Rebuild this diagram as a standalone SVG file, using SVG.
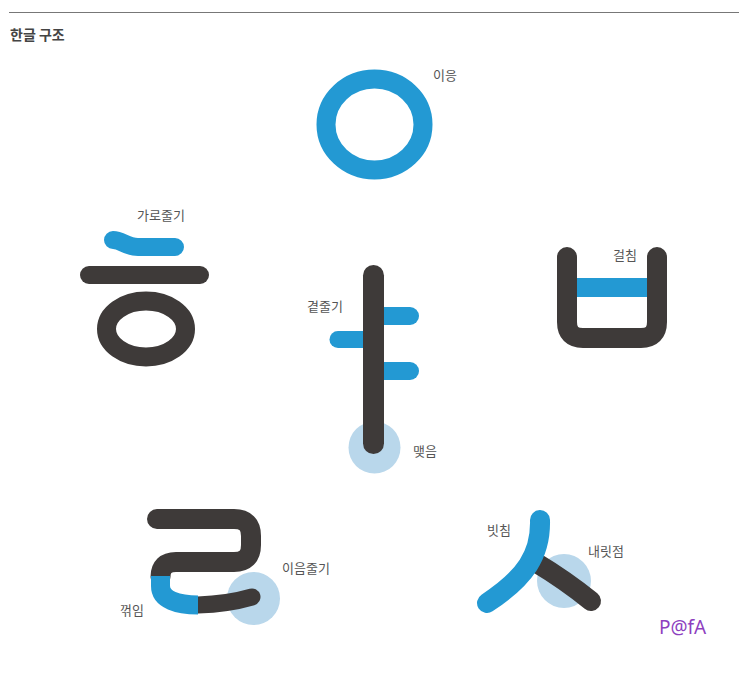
<svg xmlns="http://www.w3.org/2000/svg" width="749" height="683" viewBox="0 0 749 683">
<style>
.lbl{font-family:"Noto Sans CJK KR","Noto Sans",sans-serif;font-size:13px;fill:#555}
.title{font-family:"Noto Sans CJK KR","Noto Sans",sans-serif;font-size:14px;font-weight:bold;fill:#444}
.blue{fill:none;stroke:#2399d3;stroke-linecap:round;stroke-linejoin:round}
.dark{fill:none;stroke:#3e3a39;stroke-linecap:round;stroke-linejoin:round}
.halo{fill:#b9d7eb}
</style>
<rect width="749" height="683" fill="#fff"/>
<line x1="9" y1="12.5" x2="739" y2="12.5" stroke="#777" stroke-width="1.2"/>
<text class="title" x="10" y="40">한글 구조</text>

<g id="ieung">
<ellipse cx="374.5" cy="124.5" rx="48.5" ry="45.5" class="blue" stroke-width="19"/>
<text class="lbl" x="433" y="80">이응</text>
</g>

<g id="hieut">
<path d="M113,240 C122,240 126,247 138,247 L175,247" class="blue" stroke-width="18"/>
<line x1="89" y1="275" x2="200" y2="275" class="dark" stroke-width="18"/>
<ellipse cx="146" cy="329" rx="39.5" ry="28" class="dark" stroke-width="19"/>
<text class="lbl" x="137" y="220">가로줄기</text>
</g>

<g id="ya">
<circle cx="374.5" cy="447.5" r="26" class="halo"/>
<line x1="374" y1="316" x2="410" y2="316" class="blue" stroke-width="18"/>
<line x1="374" y1="371" x2="410" y2="371" class="blue" stroke-width="18"/>
<line x1="338" y1="339.5" x2="374" y2="339.5" class="blue" stroke-width="17"/>
<line x1="373.5" y1="275.5" x2="373.5" y2="443.5" class="dark" stroke-width="21"/>
<text class="lbl" x="307" y="311">곁줄기</text>
<text class="lbl" x="413" y="456">맺음</text>
</g>

<g id="bieup">
<path d="M567,257 L567,322 Q567,338 583,338 L641,338 Q657,338 657,322 L657,257" class="dark" stroke-width="20"/>
<rect x="577" y="278" width="70" height="19" fill="#2399d3"/>
<text class="lbl" x="613" y="260">걸침</text>
</g>

<g id="rieul">
<circle cx="253.5" cy="598.5" r="26.5" class="halo"/>
<path d="M157,519 L234,519 Q251,519 251,536 L251,545 Q251,562 234,562 L176,562 Q160.5,562 160.5,577" class="dark" stroke-width="20"/>
<path d="M198,605 Q228,604 252,597" class="dark" stroke-width="17"/>
<path d="M160.5,576 L160.5,586 C160.5,600 178,605 198,605" fill="none" stroke="#2399d3" stroke-width="19" stroke-linejoin="round"/>
<text class="lbl" x="282" y="573">이음줄기</text>
<text class="lbl" x="120" y="615">꺾임</text>
</g>

<g id="siot">
<circle cx="564" cy="581" r="27" class="halo"/>
<path d="M535,562 Q565,580 591,601" class="dark" stroke-width="20"/>
<path d="M540,520 C541,555 525,578 487,603" class="blue" stroke-width="20"/>
<text class="lbl" x="487" y="535">빗침</text>
<text class="lbl" x="588" y="556">내릿점</text>
</g>

<g id="connectors"></g>

<text x="659" y="634" font-family="'Noto Sans','Liberation Sans',sans-serif" font-size="19" fill="#8e3fbf">P@fA</text>
</svg>
